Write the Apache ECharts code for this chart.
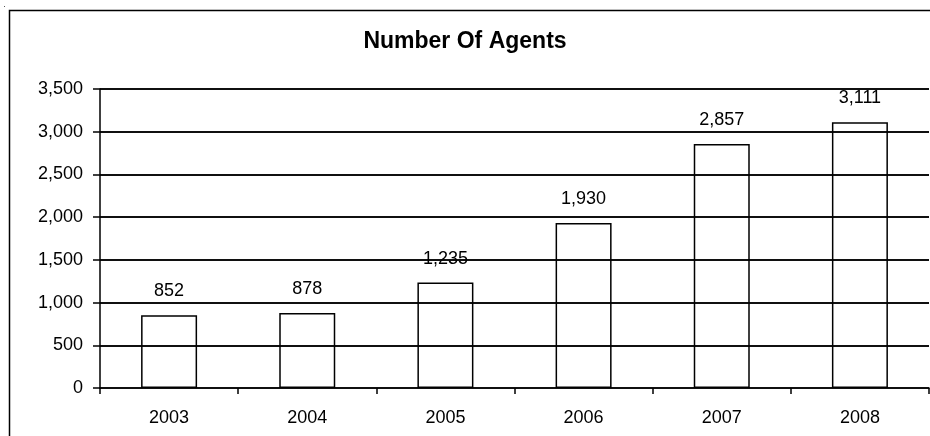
<!DOCTYPE html>
<html>
<head>
<meta charset="utf-8">
<script src="https://cdn.jsdelivr.net/npm/echarts@6/dist/echarts.min.js"></script>
<style>html,body{margin:0;padding:0;background:#fff;}#c{width:930px;height:436px;}</style>
</head>
<body>
<div id="c"></div>
<script>
var categories = ['2003', '2004', '2005', '2006', '2007', '2008'];
var agents = [852, 878, 1235, 1930, 2857, 3111];
var gridValues = [500, 1000, 1500, 2000, 2500, 3000, 3500];
var titleText = 'Number Of Agents';

var chart = echarts.init(document.getElementById('c'), null, {renderer: 'canvas'});
var font = '"Liberation Sans", Arial, sans-serif';
chart.setOption({
  animation: false,
  backgroundColor: '#fff',
  title: {
    text: titleText,
    left: 'center', top: 25,
    textStyle: {fontFamily: font, fontSize: 23, fontWeight: 'bold', color: '#000'}
  },
  graphic: [{
    type: 'rect', silent: true, z: -1,
    shape: {x: 9.5, y: 10.5, width: 1000, height: 600},
    style: {fill: 'none', stroke: '#000', lineWidth: 1.5}
  }, {
    type: 'rect', silent: true,
    shape: {x: 4, y: 6, width: 1, height: 1},
    style: {fill: '#555'}
  }],
  grid: {left: 100, right: 1, top: 89, bottom: 48},
  xAxis: {
    type: 'category',
    data: categories,
    z: 5,
    axisLine: {lineStyle: {color: '#000', width: 1.5}},
    axisTick: {show: true, length: 6, lineStyle: {color: '#000', width: 1.5}},
    axisLabel: {fontFamily: font, fontSize: 18, color: '#000', margin: 21},
    splitLine: {show: false}
  },
  yAxis: {
    type: 'value',
    min: 0, max: 3500, interval: 500,
    z: 5,
    axisLine: {show: true, lineStyle: {color: '#000', width: 1.5}},
    axisTick: {show: true, length: 7, lineStyle: {color: '#000', width: 1.5}},
    axisLabel: {
      fontFamily: font, fontSize: 18, color: '#000', margin: 17,
      formatter: function (v) { return v.toLocaleString('en-US'); }
    },
    splitLine: {show: true, lineStyle: {color: '#000', width: 1.5}}
  },
  series: [{
    type: 'bar',
    data: agents,
    barWidth: 56,
    itemStyle: {color: 'none', borderColor: '#000', borderWidth: 1.5},
    label: {
      show: true, position: 'top', distance: 13,
      fontFamily: font, fontSize: 18, color: '#000',
      formatter: function (p) { return p.value.toLocaleString('en-US'); }
    },
    markLine: {
      silent: true,
      symbol: 'none',
      animation: false,
      label: {show: false},
      lineStyle: {color: '#000', width: 1.5, type: 'solid'},
      emphasis: {disabled: true},
      data: gridValues.map(function (v) { return {yAxis: v}; })
    }
  }]
});
</script>
</body>
</html>
